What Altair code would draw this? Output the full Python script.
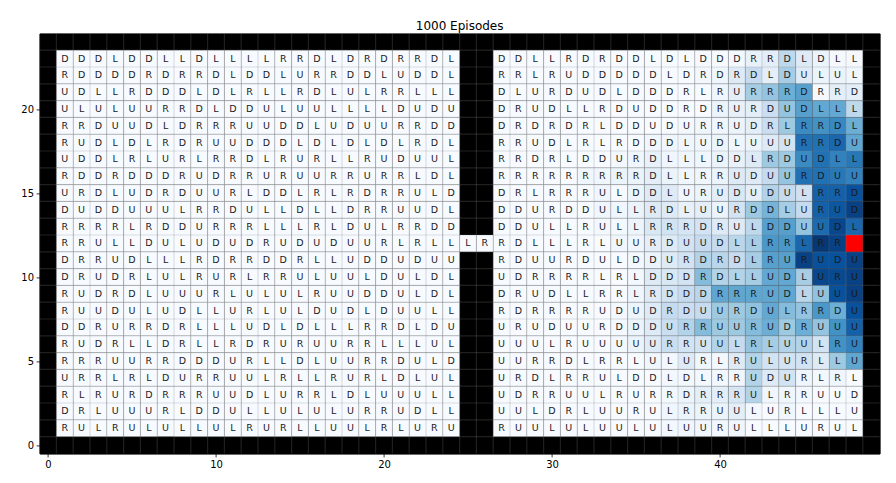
import altair as alt
import pandas as pd

title_text = "1000 Episodes"
x_ticks = [0, 10, 20, 30, 40]
y_ticks = [0, 5, 10, 15, 20]
n_cols = 50
n_rows = 25

# rows from y=23 (top) down to y=1; left room x=1..24
left_rows = [
    "DDDLDDLLDLLLLRRDLDRDRRDL",
    "RDDDDRDRRDLDDLURRDDLUDDL",
    "UDLLRDDDLDLRLLRDLULRRLLL",
    "ULULUURRDLDDULUULLLLDUDU",
    "RRDUUDLDRRRUUDDLUDUURRDD",
    "RUDLDLRDRUUDDDLDLDLDLRDL",
    "UDDLRLURLRRDLRURLLRUDUUL",
    "RDDRDDDRUDRRURUURRURRLDL",
    "URDLUDRDUURLDDLRLRDRRULD",
    "DUDDUUULRRDULLDLLDRRUUDL",
    "RRRRLRDDURRRLLLRLDULRRDD",
    "RRULLDULUDUDRUDUDUURLRLL",
    "DRRUDLLLRDRRDDRLLUDDUDUU",
    "DRUDRLULRURLRRULUULDULDL",
    "RUDRDLUUURLULULRUUDDULDL",
    "RUUDULUDLLURLULDUDLDUULL",
    "DDRURRDRLLLUDLDLLLRRDLDU",
    "RUDRLLDRLLRDRURUURRLLLUL",
    "RRRUURRDDDURLLDLUURRDULD",
    "URRLRLDURRUULRLLRURLDLUL",
    "RLRURDRRRUUDLURRLDLUUULL",
    "DRLUUURLDDULLULULURRUDLL",
    "RULRULULLULRURLLUULRLURU",
]

# right room x=27..48 ('*' = goal)
right_rows = [
    "DDLLRDRDDLDLDDDRRDLDLL",
    "RRLRUDDDDDLDRDRDLDULUL",
    "DLURDUDLDDDRLRURRRDRRD",
    "DRUDLLRDUDDRDRURDUDLLL",
    "DRDRDRLDDUDURRUDRLRRDL",
    "RRUDLRLRDDDLUDLUUURRDU",
    "RRDRLDDURDLLLDDLRDUDLL",
    "RRRRRRRRRDLLRRUDUURDUU",
    "DRLRRRULDDLURUDUDULRRD",
    "DDURDDULLRDLUURDDLURUD",
    "DDULLRULLRRRDRULDDUUDL",
    "RDLLLRLUURDUUDLLRRLRR*",
    "RDUURDULDDURDRDLRURUDU",
    "UDRRRRLRLDDDRDLLUDLURU",
    "DRUDLLRRLRDDDRRRUDLUUU",
    "RDRRRRUDUDRDUURDULRRDU",
    "URUDUURDDDURRUURUDRUUU",
    "UUULRUUUUURRUULRLUULRU",
    "UURRDLRRLULURLRULURLLU",
    "URDLRRULDDLDLRRUDURLRL",
    "UDRRUULRURRDRRRULRRUUD",
    "UULDRLUURULRRUULURLLLU",
    "RUULULUULULUURULLLURUL",
]

# state values (0..8 on the Blues scale) of the right room, x=27..48
value_rows = [
    [0, 0, 0, 0, 0, 0, 0, 0, 0, 0, 0, 0, 0.1, 0, 0.2, 0.6, 0.8, 2.2, 1.0, 0.5, 0.1, 0.1],
    [0, 0, 0, 0, 0, 0, 0, 0, 0, 0, 0, 0, 0.2, 0.3, 1.0, 2.0, 0.8, 2.8, 1.0, 0.5, 0.5, 0.3],
    [0, 0, 0, 0, 0, 0, 0, 0, 0, 0, 0, 0, 0, 0.3, 0.8, 2.8, 3.2, 4.0, 4.5, 0.1, 0.8, 0.8],
    [0, 0, 0, 0, 0, 0, 0, 0, 0, 0, 0, 0, 0, 0.5, 0.6, 0.8, 1.8, 3.2, 4.5, 4.2, 4.2, 2.2],
    [0, 0, 0, 0, 0, 0, 0, 0, 0, 0, 0, 0.2, 0.3, 0.3, 0.5, 0.8, 1.8, 3.0, 5.2, 5.0, 5.3, 4.0],
    [0, 0, 0, 0, 0, 0, 0, 0, 0, 0.3, 0.3, 0.3, 0.3, 0.4, 0.3, 0.5, 1.0, 1.5, 6.0, 6.0, 6.3, 4.3],
    [0, 0, 0, 0, 0, 0, 0, 0.2, 0.3, 0.6, 0.3, 0.3, 0.3, 0.5, 0.6, 1.0, 3.0, 3.0, 5.2, 6.0, 5.5, 5.8],
    [0, 0, 0, 0, 0, 0.3, 0.3, 0.5, 0.5, 0.8, 0.5, 0.3, 0.3, 0.5, 1.0, 1.0, 2.0, 3.2, 6.0, 6.0, 5.8, 5.5],
    [0, 0, 0, 0, 0, 0, 0.3, 0, 0.4, 1.0, 1.0, 0.3, 0.5, 0.8, 1.2, 0.8, 2.5, 2.0, 1.6, 6.5, 6.5, 7.0],
    [0, 0, 0, 0, 0, 0, 0.3, 0.3, 0.5, 1.0, 1.0, 0.6, 0.8, 0.5, 1.5, 3.0, 3.8, 2.8, 2.0, 6.5, 6.8, 7.5],
    [0, 0, 0, 0, 0, 0, 0.2, 0.2, 0.4, 1.2, 1.5, 1.3, 1.5, 1.0, 1.0, 2.2, 4.5, 4.5, 3.2, 6.2, 7.3, 6.3],
    [0, 0, 0, 0, 0, 0, 0, 0.3, 0.3, 0.8, 1.0, 1.5, 2.0, 2.0, 2.3, 2.8, 4.8, 4.8, 6.3, 7.8, 7.5, 8.0],
    [0, 0, 0, 0, 0, 0, 0, 0, 0.2, 0.5, 1.0, 1.5, 2.5, 2.3, 2.0, 2.8, 4.5, 4.5, 7.5, 7.0, 7.0, 7.5],
    [0, 0, 0, 0, 0, 0, 0, 0, 0.2, 1.0, 1.2, 1.5, 3.5, 2.5, 2.5, 2.8, 4.2, 4.2, 2.8, 7.3, 7.2, 7.5],
    [0, 0, 0, 0, 0, 0, 0, 0, 0.3, 1.0, 1.5, 2.0, 2.3, 4.3, 4.3, 4.3, 4.3, 4.3, 2.3, 3.3, 7.0, 7.5],
    [0, 0, 0, 0, 0, 0, 0, 0.2, 0.4, 1.0, 2.0, 1.8, 2.0, 3.0, 3.0, 3.3, 4.2, 3.5, 3.2, 4.8, 4.0, 7.0],
    [0, 0, 0, 0, 0, 0, 0, 0.2, 0.5, 1.0, 1.8, 2.5, 3.5, 3.0, 3.0, 3.5, 4.0, 3.0, 4.0, 3.2, 5.0, 6.5],
    [0, 0, 0, 0, 0, 0, 0, 0.2, 0.5, 1.0, 1.8, 1.5, 1.5, 2.5, 2.0, 3.2, 2.8, 2.5, 2.5, 1.5, 5.0, 5.5],
    [0, 0, 0, 0, 0, 0, 0, 0, 0, 0.3, 0.2, 1.0, 0.3, 0.2, 1.0, 2.5, 1.5, 1.5, 1.5, 1.0, 3.0, 4.3],
    [0, 0, 0, 0, 0, 0, 0, 0, 0, 0, 0.2, 0.2, 0.2, 0.2, 0.3, 2.5, 1.0, 1.5, 0.3, 0.2, 0.3, 0],
    [0, 0, 0, 0, 0, 0, 0, 0, 0, 0, 0.2, 0.5, 0.8, 0.8, 1.3, 2.5, 0.3, 0.3, 0.2, 0, 0, 0],
    [0, 0, 0, 0, 0, 0, 0, 0, 0, 0, 0.3, 0.5, 0.5, 0.5, 0.8, 0.2, 0, 0.3, 0, 0, 0, 0],
    [0, 0, 0, 0, 0, 0, 0, 0, 0, 0, 0.2, 0.3, 0.3, 0.2, 0.3, 0, 0, 0, 0, 0, 0, 0],
]

door_y = 12
door_x = [25, 26]
door_letters = ["L", "R"]
left_x0 = 1
right_x0 = 27
top_y = 23

blues = ["#f7fbff", "#deebf7", "#c6dbef", "#9ecae1", "#6baed6",
         "#4292c6", "#2171b5", "#08519c", "#08306b"]

cells = []
goal = []
for i, row in enumerate(left_rows):
    y = top_y - i
    for j, ch in enumerate(row):
        cells.append({"x": left_x0 + j, "y": y, "a": ch, "v": 0.0})
for i, row in enumerate(right_rows):
    y = top_y - i
    for j, ch in enumerate(row):
        if ch == "*":
            goal.append({"x": right_x0 + j, "y": y})
        else:
            cells.append({"x": right_x0 + j, "y": y, "a": ch, "v": value_rows[i][j]})
for dx, ch in zip(door_x, door_letters):
    cells.append({"x": dx, "y": door_y, "a": ch, "v": 0.0})

cells_df = pd.DataFrame(cells)
goal_df = pd.DataFrame(goal)
vgrid = pd.DataFrame({"g": [k + 0.5 for k in range(n_cols - 1)]})
hgrid = pd.DataFrame({"g": [k + 0.5 for k in range(n_rows - 1)]})

W, H = 840, 420
FONT = "DejaVu Sans"

xscale = alt.Scale(domain=[-0.5, n_cols - 0.5], nice=False, zero=False)
yscale = alt.Scale(domain=[-0.5, n_rows - 0.5], nice=False, zero=False)
xaxis = alt.Axis(values=x_ticks, title=None, grid=False, format="d", labelFlush=False)
yaxis = alt.Axis(values=y_ticks, title=None, grid=False, format="d", labelFlush=False)

base = alt.Chart(cells_df).transform_calculate(
    x0="datum.x - 0.5", x1="datum.x + 0.5", y0="datum.y - 0.5", y1="datum.y + 0.5"
)

rects = base.mark_rect().encode(
    x=alt.X("x0:Q", scale=xscale, axis=xaxis),
    x2="x1:Q",
    y=alt.Y("y0:Q", scale=yscale, axis=yaxis),
    y2="y1:Q",
    color=alt.Color("v:Q", legend=None,
                    scale=alt.Scale(domain=list(range(9)), range=blues, interpolate="rgb")),
)

goal_rect = alt.Chart(goal_df).transform_calculate(
    x0="datum.x - 0.5", x1="datum.x + 0.5", y0="datum.y - 0.5", y1="datum.y + 0.5"
).mark_rect(color="#ff0000").encode(
    x=alt.X("x0:Q", scale=xscale, axis=xaxis), x2="x1:Q",
    y=alt.Y("y0:Q", scale=yscale, axis=yaxis), y2="y1:Q",
)

vlines = alt.Chart(vgrid).mark_rule(color="#808080", strokeWidth=1.2, opacity=0.25).encode(
    x=alt.X("g:Q", scale=xscale, axis=xaxis), y=alt.value(0), y2=alt.value(H)
)
hlines = alt.Chart(hgrid).mark_rule(color="#808080", strokeWidth=1.2, opacity=0.25).encode(
    y=alt.Y("g:Q", scale=yscale, axis=yaxis), x=alt.value(0), x2=alt.value(W)
)

letters = base.mark_text(font=FONT, fontSize=9.5, color="#1a1a1a",
                         align="center", baseline="middle").encode(
    x=alt.X("x:Q", scale=xscale, axis=xaxis),
    y=alt.Y("y:Q", scale=yscale, axis=yaxis),
    text="a:N",
)

chart = alt.layer(rects, goal_rect, vlines, hlines, letters).properties(
    width=W, height=H,
    title=alt.Title(title_text, font=FONT, fontSize=12, fontWeight="normal",
                    color="black", anchor="middle", baseline="alphabetic", offset=5, dy=14),
    autosize=alt.AutoSizeParams(type="none"),
    padding={"left": 39.6, "top": 33.4, "right": 16.4, "bottom": 29.6},
).configure_view(
    fill="black", stroke="black", strokeWidth=1
).configure_axis(
    labelFont=FONT, labelFontSize=10, labelColor="black",
    tickColor="black", tickSize=3.5, tickWidth=0.8,
    domainColor="black", domainWidth=0.8, labelPadding=2.5,
)

chart.save("out.html", embed_options={"renderer": "svg", "actions": False})
